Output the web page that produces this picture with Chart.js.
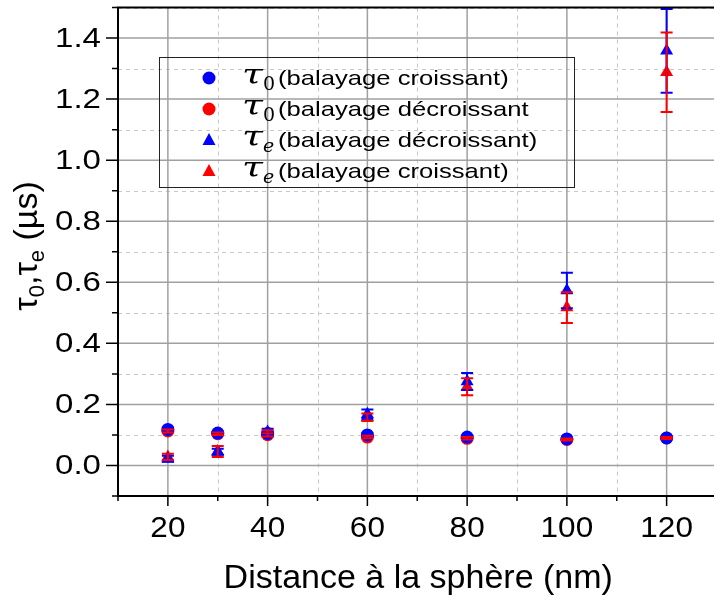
<!DOCTYPE html>
<html>
<head>
<meta charset="utf-8">
<script src="https://cdn.jsdelivr.net/npm/chart.js@4.4.0/dist/chart.umd.min.js"></script>
<style>
  html, body { margin: 0; padding: 0; background: #fff; overflow: hidden; }
  #wrap { position: relative; width: 724px; height: 600px; }
</style>
</head>
<body>
<div id="wrap"><canvas id="chart" width="724" height="600"></canvas></div>
<script>
// distances (nm) and lifetimes (us)
const distances = [20, 30, 40, 60, 80, 100, 120];
const tau0Up = [0.118, 0.106, 0.105, 0.100, 0.093, 0.087, 0.090];
const tau0UpErr = [0.006, 0.004, 0.004, 0.006, 0.004, 0.003, 0.003];
const tau0Down = [0.113, 0.104, 0.101, 0.093, 0.089, 0.085, 0.090];
const tau0DownErr = [0.005, 0.004, 0.004, 0.004, 0.004, 0.003, 0.003];
const tauEDown = [0.022, 0.045, 0.110, 0.168, 0.275, 0.573, 1.358];
const tauEDownErr = [0.010, 0.010, 0.010, 0.015, 0.028, 0.058, 0.137];
const tauEUp = [0.028, 0.046, 0.105, 0.158, 0.258, 0.517, 1.288];
const tauEUpErr = [0.010, 0.018, 0.010, 0.012, 0.028, 0.050, 0.130];

const xMajor = [20, 40, 60, 80, 100, 120];
const xMinor = [10, 30, 50, 70, 90, 110, 130];
const yMajor = [0.0, 0.2, 0.4, 0.6, 0.8, 1.0, 1.2, 1.4];
const yMinor = [-0.1, 0.1, 0.3, 0.5, 0.7, 0.9, 1.1, 1.3, 1.5];

const BLUE = "#0000ff";
const RED = "#ff0000";

function pts(values) {
  return distances.map((d, i) => ({ x: d, y: values[i] }));
}

function stretchText(ctx, text, x, y, sx, align) {
  ctx.save();
  ctx.translate(x, y);
  ctx.scale(sx, 1);
  ctx.textAlign = align;
  ctx.fillText(text, 0, 0);
  ctx.restore();
}

// grid lines under the data
const gridPlugin = {
  id: "grid",
  beforeDatasetsDraw(chart) {
    const { ctx, chartArea: a, scales: { x, y } } = chart;
    ctx.save();
    ctx.lineWidth = 1;
    ctx.strokeStyle = "#c8c8c8";
    ctx.setLineDash([4, 4]);
    xMinor.forEach(v => {
      const px = Math.round(x.getPixelForValue(v)) + 0.5;
      ctx.beginPath(); ctx.moveTo(px, a.top); ctx.lineTo(px, a.bottom); ctx.stroke();
    });
    yMinor.forEach(v => {
      const py = Math.round(y.getPixelForValue(v)) + 0.5;
      ctx.beginPath(); ctx.moveTo(a.left, py); ctx.lineTo(a.right, py); ctx.stroke();
    });
    ctx.setLineDash([]);
    ctx.strokeStyle = "#a0a0a0";
    ctx.lineWidth = 1.5;
    xMajor.forEach(v => {
      const px = x.getPixelForValue(v);
      ctx.beginPath(); ctx.moveTo(px, a.top); ctx.lineTo(px, a.bottom); ctx.stroke();
    });
    yMajor.forEach(v => {
      const py = y.getPixelForValue(v);
      ctx.beginPath(); ctx.moveTo(a.left, py); ctx.lineTo(a.right, py); ctx.stroke();
    });
    ctx.restore();
  }
};

// error bars on top of the symbols
const errorBarPlugin = {
  id: "errorBars",
  afterDatasetsDraw(chart) {
    const { ctx, scales: { x, y } } = chart;
    ctx.save();
    ctx.lineWidth = 2;
    chart.data.datasets.forEach(ds => {
      ctx.strokeStyle = ds.borderColor;
      ds.data.forEach((p, i) => {
        const e = ds.errors[i];
        const px = x.getPixelForValue(p.x);
        const top = y.getPixelForValue(p.y + e);
        const bot = y.getPixelForValue(p.y - e);
        ctx.beginPath();
        ctx.moveTo(px, top); ctx.lineTo(px, bot);
        ctx.moveTo(px - 6, top); ctx.lineTo(px + 6, top);
        ctx.moveTo(px - 6, bot); ctx.lineTo(px + 6, bot);
        ctx.stroke();
      });
    });
    ctx.restore();
  }
};

function drawMarker(ctx, style, color, cx, cy) {
  ctx.fillStyle = color;
  ctx.beginPath();
  if (style === "circle") {
    ctx.arc(cx, cy, 6.5, 0, Math.PI * 2);
  } else {
    ctx.moveTo(cx, cy - 7);
    ctx.lineTo(cx + 6.5, cy + 5);
    ctx.lineTo(cx - 6.5, cy + 5);
    ctx.closePath();
  }
  ctx.fill();
}

// axes frame, ticks, labels, titles and legend
const framePlugin = {
  id: "frame",
  afterDraw(chart) {
    const { ctx, chartArea: a, scales: { x, y } } = chart;
    ctx.save();
    ctx.strokeStyle = "#000";
    ctx.lineWidth = 2;
    ctx.strokeRect(a.left, a.top, a.right - a.left, a.bottom - a.top);

    ctx.lineWidth = 1.5;
    ctx.beginPath();
    yMajor.forEach(v => { const py = y.getPixelForValue(v); ctx.moveTo(a.left, py); ctx.lineTo(a.left - 12, py); });
    yMinor.forEach(v => { const py = y.getPixelForValue(v); ctx.moveTo(a.left, py); ctx.lineTo(a.left - 6, py); });
    xMajor.forEach(v => { const px = x.getPixelForValue(v); ctx.moveTo(px, a.bottom); ctx.lineTo(px, a.bottom + 10); });
    xMinor.forEach(v => { const px = x.getPixelForValue(v); ctx.moveTo(px, a.bottom); ctx.lineTo(px, a.bottom + 5); });
    ctx.stroke();

    ctx.fillStyle = "#000";
    ctx.textBaseline = "middle";
    ctx.font = "28px 'Liberation Sans', Arial, sans-serif";
    yMajor.forEach(v => stretchText(ctx, v.toFixed(1), 101, y.getPixelForValue(v) + 1, 1.18, "right"));

    ctx.textBaseline = "alphabetic";
    ctx.font = "30px 'Liberation Sans', Arial, sans-serif";
    xMajor.forEach(v => stretchText(ctx, String(v), x.getPixelForValue(v), 537, 1.05, "center"));

    ctx.font = "34px 'Liberation Sans', Arial, sans-serif";
    ctx.textAlign = "center";
    ctx.fillText("Distance à la sphère (nm)", (a.left + a.right) / 2 + 1, 588);

    // y title with subscripts
    const big = "34px 'Liberation Sans', Arial, sans-serif";
    const small = "22px 'Liberation Sans', Arial, sans-serif";
    const parts = [["τ", big, 0], ["0", small, 7], [",", big, 0], ["τ", big, 0], ["e", small, 7], [" (µs)", big, 0]];
    let total = 0;
    parts.forEach(p => { ctx.font = p[1]; total += ctx.measureText(p[0]).width; });
    ctx.save();
    ctx.translate(37, 246);
    ctx.rotate(-Math.PI / 2);
    ctx.textAlign = "left";
    let cx = -total / 2;
    parts.forEach(p => {
      ctx.font = p[1];
      ctx.fillText(p[0], cx, p[2]);
      cx += ctx.measureText(p[0]).width;
    });
    ctx.restore();

    // legend
    ctx.strokeStyle = "#222";
    ctx.lineWidth = 1;
    ctx.strokeRect(159.5, 57.5, 415, 130);
    const rows = [78, 109, 140, 171];
    chart.data.datasets.forEach((ds, i) => {
      const ry = rows[i];
      drawMarker(ctx, ds.pointStyle, ds.backgroundColor, 209, ry);
      ctx.fillStyle = "#000";
      ctx.font = "italic 28px 'DejaVu Serif', serif";
      stretchText(ctx, "τ", 242, ry + 6, 1.35, "left");
      ctx.font = ds.sub === "0" ? "19px 'DejaVu Serif', serif" : "italic 19px 'DejaVu Serif', serif";
      stretchText(ctx, ds.sub, 263, ry + 12, 1.0, "left");
      ctx.font = "21px 'Liberation Sans', Arial, sans-serif";
      stretchText(ctx, ds.text, 278, ry + 7, 1.22, "left");
    });
    ctx.restore();
  }
};

new Chart(document.getElementById("chart"), {
  type: "scatter",
  data: {
    datasets: [
      { label: "τ0 (balayage croissant)", sub: "0", text: "(balayage croissant)", data: pts(tau0Up), errors: tau0UpErr,
        pointStyle: "circle", pointRadius: 6.5, backgroundColor: BLUE, borderColor: BLUE, borderWidth: 0 },
      { label: "τ0 (balayage décroissant", sub: "0", text: "(balayage décroissant", data: pts(tau0Down), errors: tau0DownErr,
        pointStyle: "circle", pointRadius: 6.5, backgroundColor: RED, borderColor: RED, borderWidth: 0 },
      { label: "τe (balayage décroissant)", sub: "e", text: "(balayage décroissant)", data: pts(tauEDown), errors: tauEDownErr,
        pointStyle: "triangle", pointRadius: 7.5, backgroundColor: BLUE, borderColor: BLUE, borderWidth: 0 },
      { label: "τe (balayage croissant)", sub: "e", text: "(balayage croissant)", data: pts(tauEUp), errors: tauEUpErr,
        pointStyle: "triangle", pointRadius: 7.5, backgroundColor: RED, borderColor: RED, borderWidth: 0 }
    ]
  },
  options: {
    responsive: false,
    animation: false,
    layout: { padding: { left: 118, top: 3, right: 2, bottom: 104 } },
    plugins: { legend: { display: false }, tooltip: { enabled: false } },
    scales: {
      x: {
        type: "linear", min: 10, max: 130,
        grid: { display: false, drawTicks: false },
        border: { display: false },
        ticks: { display: false }
      },
      y: {
        type: "linear", min: -0.1, max: 1.5,
        grid: { display: false, drawTicks: false },
        border: { display: false },
        ticks: { display: false }
      }
    }
  },
  plugins: [gridPlugin, errorBarPlugin, framePlugin]
});
</script>
</body>
</html>
